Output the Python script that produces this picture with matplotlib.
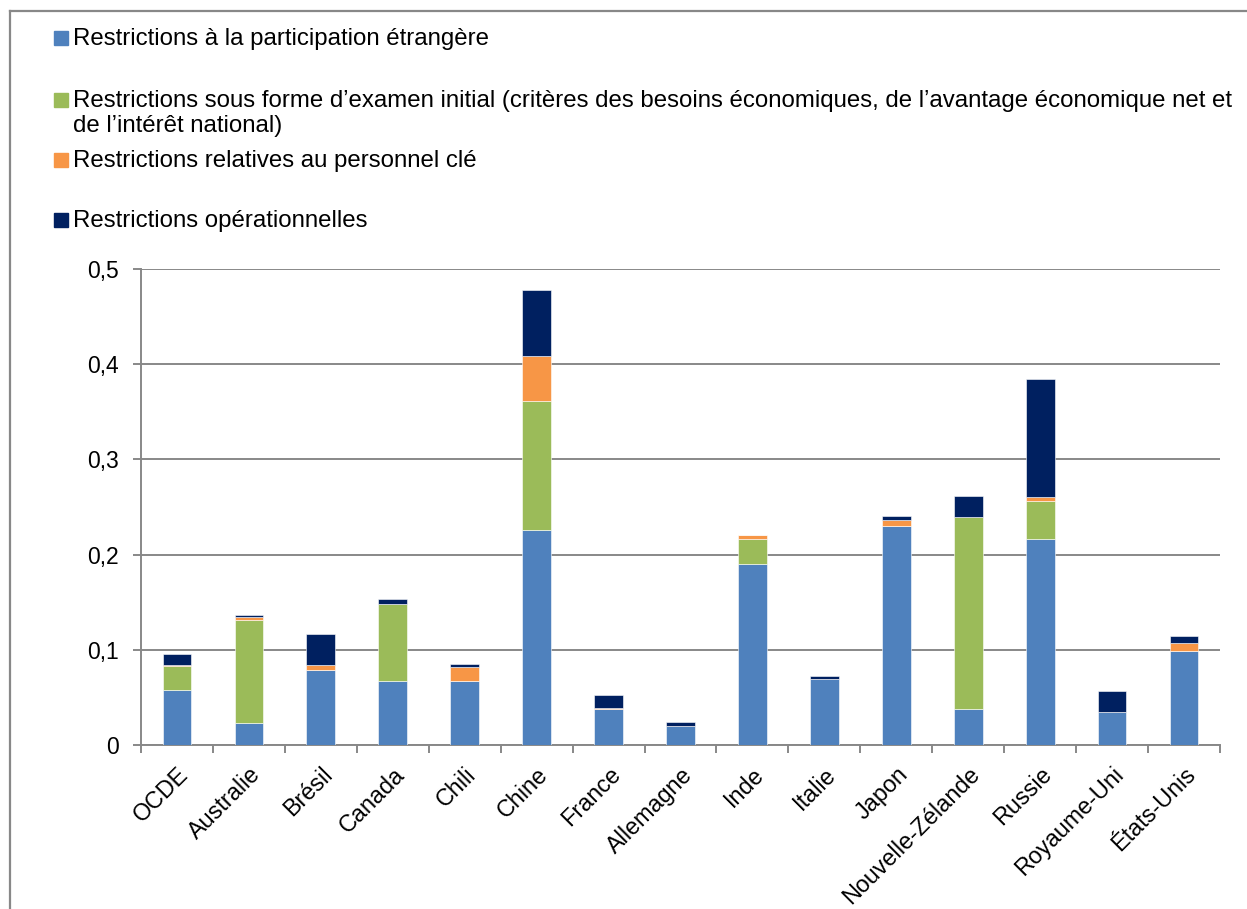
import numpy as np
import matplotlib
matplotlib.use('Agg')
import matplotlib.pyplot as plt
from matplotlib.patches import Rectangle
from matplotlib.lines import Line2D

plt.rcParams['font.family'] = ['Liberation Sans', 'DejaVu Sans']

# data
pays = ['OCDE', 'Australie', 'Brésil', 'Canada', 'Chili', 'Chine', 'France',
        'Allemagne', 'Inde', 'Italie', 'Japon', 'Nouvelle-Zélande', 'Russie',
        'Royaume-Uni', 'États-Unis']
participation = [0.058, 0.023, 0.079, 0.067, 0.067, 0.226, 0.0375, 0.020,
                 0.190, 0.069, 0.230, 0.038, 0.216, 0.035, 0.099]
examen = [0.025, 0.108, 0.0, 0.081, 0.0, 0.135, 0.0, 0.0,
          0.026, 0.0, 0.0, 0.201, 0.040, 0.0, 0.0]
personnel = [0.001, 0.003, 0.005, 0.0, 0.015, 0.048, 0.001, 0.0,
             0.005, 0.0, 0.006, 0.0, 0.005, 0.0, 0.008]
operationnelles = [0.012, 0.003, 0.033, 0.005, 0.003, 0.069, 0.014, 0.004,
                   0.0, 0.004, 0.005, 0.023, 0.123, 0.022, 0.008]

series = [participation, examen, personnel, operationnelles]
couleurs = ['#4F81BD', '#9BBB59', '#F79646', '#002060']
noms = ['Restrictions à la participation étrangère',
        'Restrictions sous forme d\u2019examen initial (critères des besoins économiques, de l\u2019avantage économique net et',
        'Restrictions relatives au personnel clé',
        'Restrictions opérationnelles']

W, H = 1247, 909
fig = plt.figure(figsize=(W / 100, H / 100), dpi=100)
ax = fig.add_axes([141 / W, 1 - 745 / H, (1220 - 141) / W, (745 - 269) / H])

fs = 17.3
grid_col = '#888888'

x = np.arange(len(pays))
bas = np.zeros(len(pays))
for vals, col in zip(series, couleurs):
    vals = np.array(vals)
    ax.bar(x, vals, width=0.4, bottom=bas, color=col, edgecolor='white',
           linewidth=0.4, zorder=3)
    bas += vals

ax.set_xlim(-0.5, len(pays) - 0.5)
ax.set_ylim(0, 0.5)
ax.set_yticks(np.arange(0, 0.51, 0.1))
ax.set_yticklabels(['0', '0,1', '0,2', '0,3', '0,4', '0,5'], fontsize=16.5)
ax.yaxis.grid(True, color=grid_col, linewidth=1.4, zorder=0)

ax.set_xticks(x)
ax.set_xticklabels(pays, fontsize=16.8, rotation=45, ha='right',
                   rotation_mode='anchor')
ax.set_xticks(np.arange(-0.5, len(pays)), minor=True)
ax.tick_params(axis='x', which='major', length=0, pad=13)
ax.tick_params(axis='x', which='minor', length=6, width=1.4, color=grid_col)
ax.tick_params(axis='y', length=6, width=1.4, color=grid_col, pad=10)

for s in ['top', 'right']:
    ax.spines[s].set_visible(False)
for s in ['left', 'bottom']:
    ax.spines[s].set_color(grid_col)
    ax.spines[s].set_linewidth(1.4)

# legend drawn by hand (uneven spacing in the original)
def fx(px):
    return px / W

def fy(py):
    return 1 - py / H

baselines = [45, 107, 167, 227]
for nom, col, b in zip(noms, couleurs, baselines):
    fig.add_artist(Rectangle((fx(54), fy(b)), 14 / W, 14 / H,
                             transform=fig.transFigure, color=col))
    fig.text(fx(73), fy(b), nom, fontsize=fs, va='baseline', ha='left')
fig.text(fx(73), fy(132), 'de l\u2019intérêt national)', fontsize=fs,
         va='baseline', ha='left')

# chart area border (cropped on right and bottom)
fig.add_artist(Line2D([fx(10), 1.0], [fy(11), fy(11)], color=grid_col,
                      linewidth=1.6, transform=fig.transFigure))
fig.add_artist(Line2D([fx(10), fx(10)], [fy(11), 0.0], color=grid_col,
                      linewidth=1.6, transform=fig.transFigure))

fig.savefig('out.png', dpi=100)
